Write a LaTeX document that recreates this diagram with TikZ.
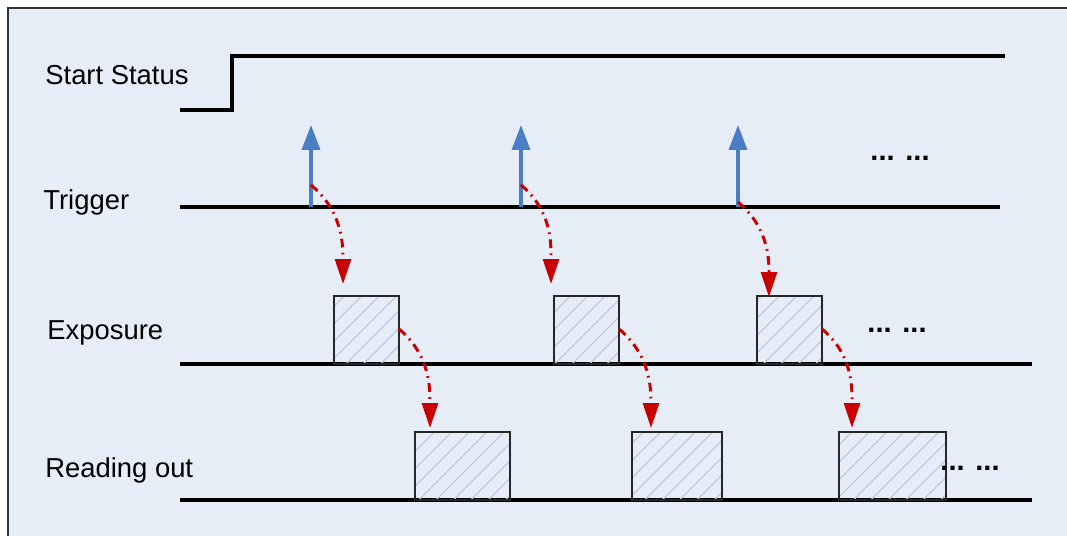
\documentclass[tikz,border=0pt]{standalone}
\usepackage{fontspec}
\setmainfont{Liberation Sans}
\usetikzlibrary{positioning, arrows.meta, calc, patterns.meta}
\definecolor{panelBlue}{RGB}{231,237,247}
\definecolor{trigBlue}{RGB}{74,126,196}
\definecolor{flowRed}{RGB}{200,0,0}
\definecolor{hatchBlue}{RGB}{186,202,228}
\tikzset{
	siglabel/.style={anchor=base west, font=\fontsize{15.6}{19}\selectfont, inner sep=0pt},
	moredots/.style={anchor=base, font=\fontsize{16.5}{19}\selectfont\bfseries, inner sep=0pt},
	sigline/.style={line width=2pt, draw=black},
	slotbox/.style={draw=black!85, line width=1.3pt, minimum height=1.36cm,
		inner sep=0pt, outer sep=0pt,
		pattern={Lines[angle=45,distance=7pt,line width=0.7pt]}, pattern color=hatchBlue},
	trigarr/.style={-{Triangle[length=0.5cm,width=0.36cm]}, line width=2pt, draw=trigBlue},
	flowarr/.style={-{Triangle[length=0.5cm,width=0.32cm]}, line width=1.7pt, draw=flowRed,
		dash pattern=on 5pt off 3pt on 1pt off 3pt}
}
\begin{document}
\begin{tikzpicture}[x=0.02cm, y=-0.02cm]
	\useasboundingbox (0,0) rectangle (1067,536);
	\draw[fill=panelBlue, draw=black!80, line width=1.2pt] (8,8) rectangle (1090,560);
	% row labels
	\node[siglabel] (lstart) at (45,85) {Start Status};
	\node[siglabel] (ltrig) at (43,210) {Trigger};
	\node[siglabel] (lexp) at (47,340) {Exposure};
	\node[siglabel] (lread) at (45,477) {Reading out};
	% signal lines
	\coordinate (s0) at (180,110);
	\coordinate (s1) at (232,110);
	\coordinate (s2) at (232,56);
	\coordinate (s3) at (1005,56);
	\draw[sigline] (s0) -- (s1) -- (s2) -- (s3);
	\coordinate (tl) at (180,207);  \coordinate (tr) at (1000,207);
	\coordinate (el) at (180,364);  \coordinate (er) at (1032,364);
	\coordinate (rl) at (180,500);  \coordinate (rr) at (1032,500);
	\draw[sigline] (tl) -- (tr);
	\draw[sigline] (el) -- (er);
	\draw[sigline] (rl) -- (rr);
	% exposure and read-out slots
	\node[slotbox, minimum width=1.3cm] (exp1) at (366.5,330) {};
	\node[slotbox, minimum width=1.3cm] (exp2) at (586.5,330) {};
	\node[slotbox, minimum width=1.3cm] (exp3) at (789.5,330) {};
	\node[slotbox, minimum width=1.9cm] (rd1) at (462.5,466) {};
	\node[slotbox, minimum width=1.8cm] (rd2) at (677,466) {};
	\node[slotbox, minimum width=2.14cm] (rd3) at (892.5,466) {};
	% trigger pulses
	\foreach \n/\xx in {1/311, 2/521, 3/738} {
		\coordinate (tb\n) at (\xx,207);
		\coordinate (tt\n) at (\xx,125);
		\draw[trigarr] (tb\n) -- (tt\n);
	}
	% trigger -> exposure
	\coordinate (ta1) at (311,185);  \coordinate (ea1) at (343,284);
	\coordinate (ta2) at (521,185);  \coordinate (ea2) at (551,284);
	\coordinate (ta3) at (738,202);  \coordinate (ea3) at (769,297);
	% exposure -> read-out
	\coordinate (xa1) at ($(exp1.east)+(0,-1)$);  \coordinate (ra1) at (430,428);
	\coordinate (xa2) at ($(exp2.east)+(0,-1)$);  \coordinate (ra2) at (651,428);
	\coordinate (xa3) at ($(exp3.east)+(0,-1)$);  \coordinate (ra3) at (852,428);
	\foreach \a/\b in {ta1/ea1, ta2/ea2, ta3/ea3, xa1/ra1, xa2/ra2, xa3/ra3}
		\draw[flowarr] (\a) to[out=-40, in=90] (\b);
	% continuation dots
	\node[moredots] (dtrig) at (900,161) {... ...};
	\node[moredots] (dexp) at (897,333) {... ...};
	\node[moredots] (dread) at (970,470) {... ...};
\end{tikzpicture}
\end{document}
